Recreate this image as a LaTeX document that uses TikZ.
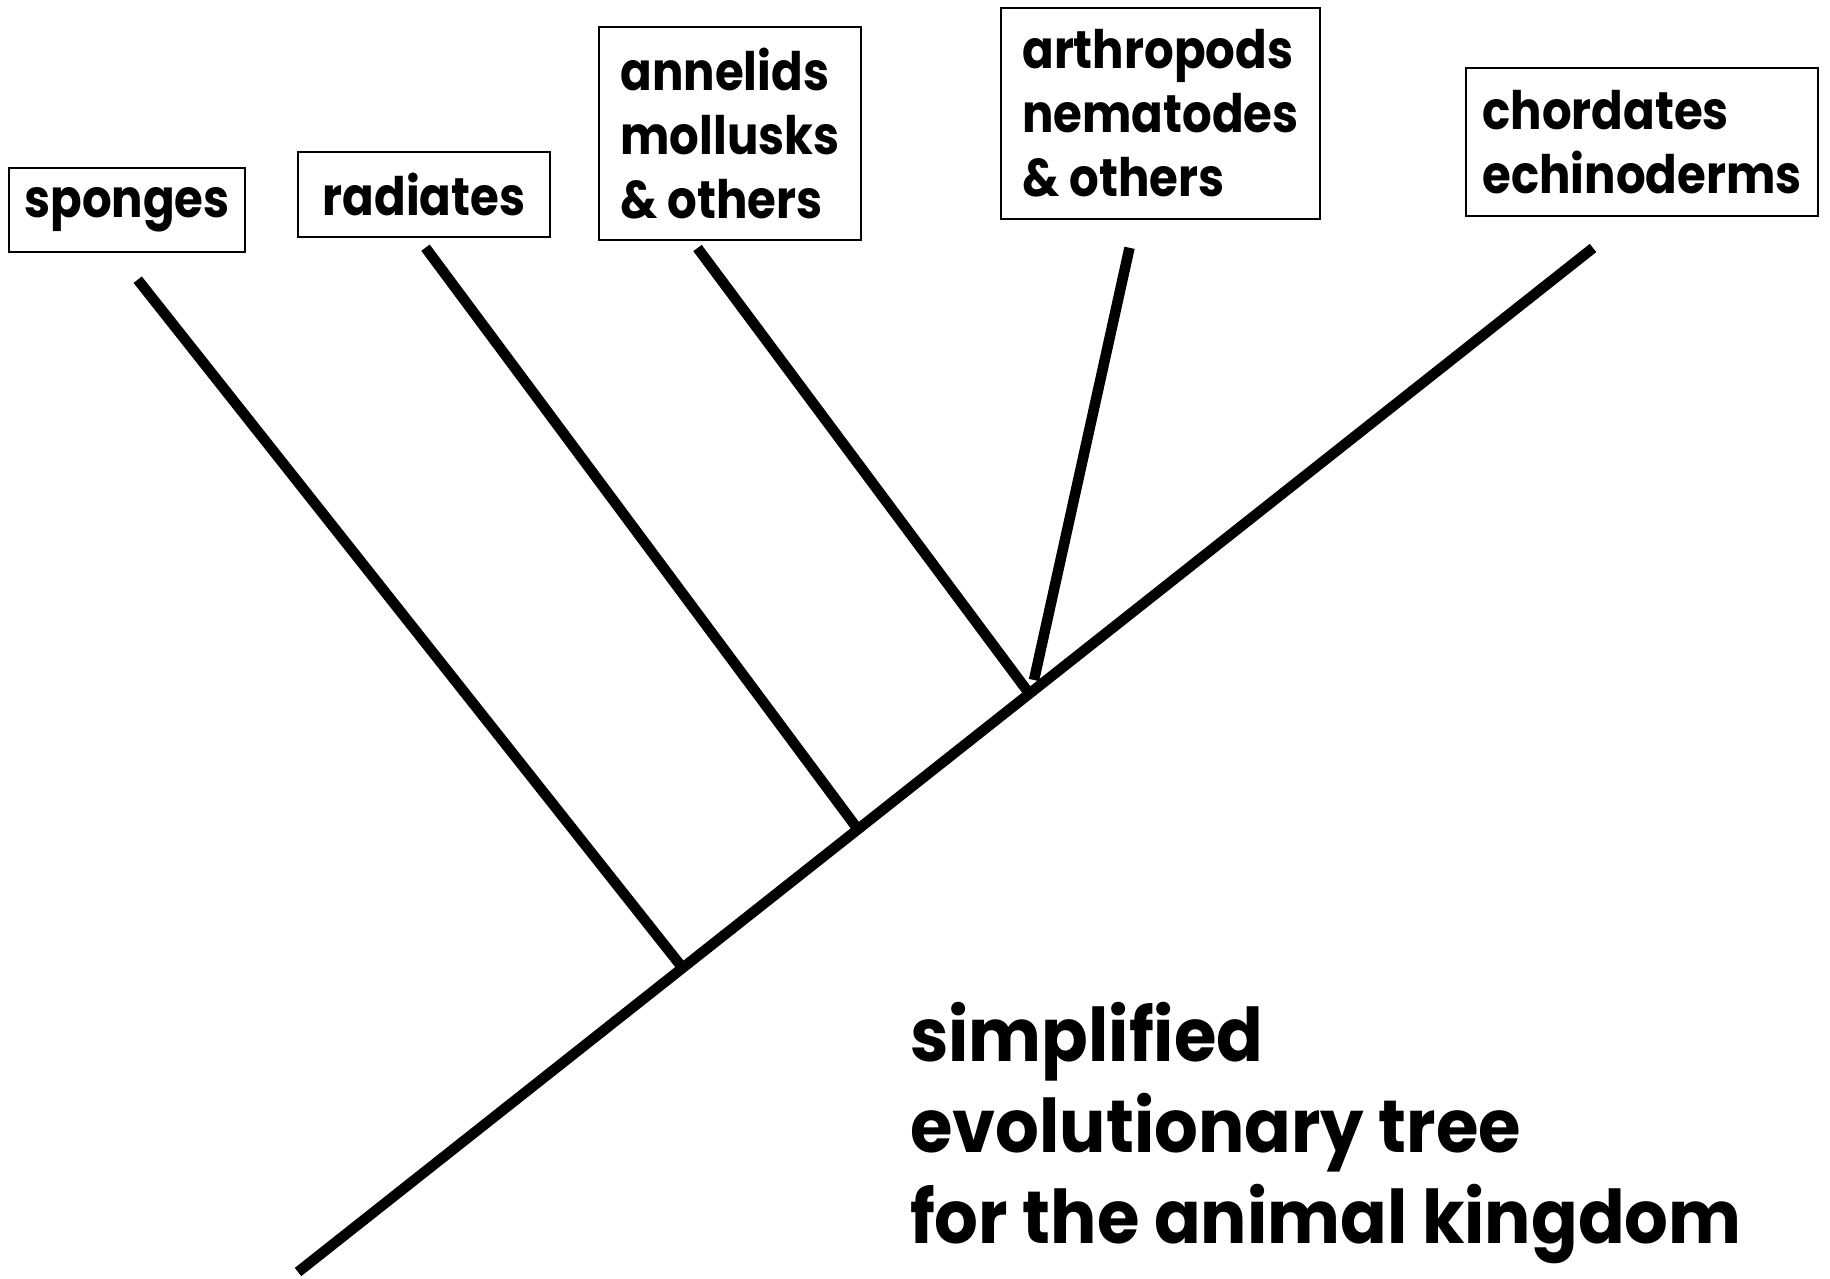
\documentclass[tikz,border=0pt]{standalone}
\usepackage{fontspec}
\setmainfont{Poppins}
\newfontfamily\taxonface{Poppins}[FakeStretch=0.88]
\newfontfamily\captionface{Poppins}[FakeStretch=0.93]
\newcommand{\taxonfont}{\taxonface\fontsize{53}{64}\selectfont\bfseries}
\newcommand{\titlefont}{\captionface\fontsize{74}{91}\selectfont\bfseries}
\begin{document}
\begin{tikzpicture}[x=1pt,y=-1pt,
  taxon/.style={draw, line width=2pt, align=left, inner sep=0pt, font=\taxonfont},
  branch/.style={line width=10.5pt},
  caption/.style={align=left, inner sep=0pt, font=\titlefont}]
  \useasboundingbox (0,0) rectangle (1830,1278);

  % labels for the groups
  \node[taxon, minimum width=236pt, minimum height=84pt]  (sponges)    at (127,210)      {sponges};
  \node[taxon, minimum width=252pt, minimum height=85pt]  (radiates)   at (424,194.5)    {radiates};
  \node[taxon, minimum width=262pt, minimum height=213pt] (annelids)   at (730,133.5)    {annelids\\mollusks\\\& others};
  \node[taxon, minimum width=319pt, minimum height=211pt] (arthropods) at (1160.5,113.5) {arthropods\\nematodes\\\& others};
  \node[taxon, minimum width=352pt, minimum height=148pt] (chordates)  at (1642,142)     {chordates\\echinoderms};

  % trunk and the points where branches split off
  \coordinate (root)  at (298,1272);
  \coordinate (tipC)  at (1593,248);
  \coordinate (jS)    at (682.3,967.5);
  \coordinate (jR)    at (857.9,829.3);
  \coordinate (jA)    at (1029.4,693.7);
  \coordinate (jN)    at (1034,680);

  % free ends of the side branches
  \coordinate (tipS)  at (137.7,279.7);
  \coordinate (tipR)  at (425.5,247.7);
  \coordinate (tipA)  at (697.5,248);
  \coordinate (tipN)  at (1129.5,247.8);

  \draw[branch] (root) -- (tipC);
  \draw[branch] (jS) -- (tipS);
  \draw[branch] (jR) -- (tipR);
  \draw[branch] (jA) -- (tipA);
  \draw[branch] (jN) -- (tipN);

  \node[caption, anchor=north west] (title) at (910,1002)
    {simplified\\evolutionary tree\\for the animal kingdom};
\end{tikzpicture}
\end{document}
